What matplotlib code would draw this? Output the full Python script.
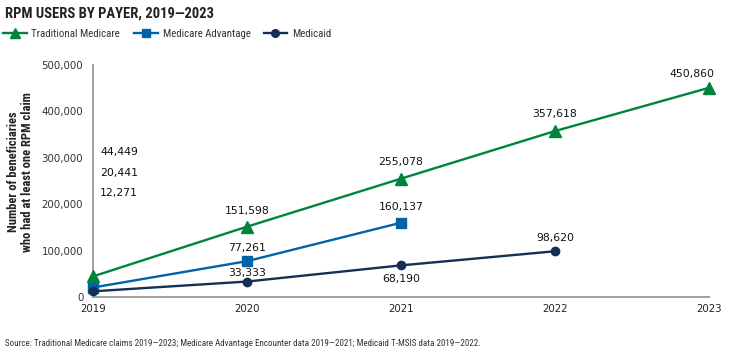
import matplotlib
matplotlib.use("Agg")
import matplotlib.pyplot as plt
from matplotlib.lines import Line2D

years_tm = [2019, 2020, 2021, 2022, 2023]
tm = [44449, 151598, 255078, 357618, 450860]
years_ma = [2019, 2020, 2021]
ma = [20441, 77261, 160137]
years_md = [2019, 2020, 2021, 2022]
md = [12271, 33333, 68190, 98620]
yticks = [0, 100000, 200000, 300000, 400000, 500000]
ytick_labels = ["0", "100,000", "200,000", "300,000", "400,000", "500,000"]
series_names = ["Traditional Medicare", "Medicare Advantage", "Medicaid"]

c_tm = "#00843D"
c_ma = "#0062A8"
c_md = "#152F55"
cond = ["Roboto Condensed", "DejaVu Sans"]
plain = ["DejaVu Sans"]

fig = plt.figure(figsize=(7.29, 3.53), dpi=100)
ax = fig.add_axes([0.1276, 0.1586, 0.845, 0.6573])

ax.plot(years_tm, tm, color=c_tm, lw=1.7, marker="^", ms=8, clip_on=False, zorder=3)
ax.plot(years_ma, ma, color=c_ma, lw=1.7, marker="s", ms=6.5, clip_on=False, zorder=3)
ax.plot(years_md, md, color=c_md, lw=1.7, marker="o", ms=6, clip_on=False, zorder=3)

ax.set_xlim(2019, 2023)
ax.set_ylim(0, 500000)
ax.set_xticks(years_tm)
ax.set_xticklabels([str(y) for y in years_tm], fontsize=7.4, color="#222222", family=plain)
ax.set_yticks(yticks)
ax.set_yticklabels(ytick_labels, fontsize=7.4, color="#333333", family=plain)
ax.tick_params(axis="y", length=0, pad=7)
ax.tick_params(axis="x", length=0, pad=5)
for s in ["top", "right"]:
    ax.spines[s].set_visible(False)
for s in ["left", "bottom"]:
    ax.spines[s].set_color("#A0A0A0")
    ax.spines[s].set_linewidth(1.4)

lbl = dict(fontsize=7.8, color="#111111", family=plain, ha="center", va="center")

# 2019 values stacked beside the axis
yl = [0.625, 0.534, 0.448]
for v, yf in zip([tm[0], ma[0], md[0]], yl):
    ax.annotate(f"{v:,}", xy=(years_tm[0], yf), xycoords=("data", "axes fraction"),
                xytext=(5, 0), textcoords="offset points",
                **{**lbl, "ha": "left"})

tm_off = [(0, 11), (0, 12), (0, 12.5), (4, 10)]
for i, ((x, v), off) in enumerate(zip(zip(years_tm[1:], tm[1:]), tm_off)):
    ha = "right" if i == len(tm_off) - 1 else "center"
    ax.annotate(f"{v:,}", (x, v), xytext=off, textcoords="offset points",
                annotation_clip=False, **{**lbl, "ha": ha})
ma_off = [9.5, 11]
for (x, v), off in zip(zip(years_ma[1:], ma[1:]), ma_off):
    ax.annotate(f"{v:,}", (x, v), xytext=(0, off), textcoords="offset points", **lbl)
md_off = [6.5, -10, 9.5]
for (x, v), off in zip(zip(years_md[1:], md[1:]), md_off):
    ax.annotate(f"{v:,}", (x, v), xytext=(0, off), textcoords="offset points", **lbl)

fig.text(0.028, 0.513, "Number of beneficiaries\nwho had at least one RPM claim",
         rotation=90, ha="center", va="center", fontsize=9, fontweight="bold",
         family=cond, color="#222222", linespacing=1.1)

fig.text(0.007, 0.963, "RPM USERS BY PAYER, 2019\u20142023", fontsize=10.5, fontweight="bold",
         family=cond, color="#222222", ha="left", va="center")

handles = [
    Line2D([], [], color=c_tm, lw=1.7, marker="^", ms=7),
    Line2D([], [], color=c_ma, lw=1.7, marker="s", ms=6),
    Line2D([], [], color=c_md, lw=1.7, marker="o", ms=5.5),
]
leg_x = [0.0, 0.18, 0.357]
for h, name, lx in zip(handles, series_names, leg_x):
    lg = fig.legend([h], [name], loc="center left", bbox_to_anchor=(lx, 0.904),
                    frameon=False, handlelength=2.2, handletextpad=0.4,
                    borderaxespad=0, borderpad=0.3,
                    prop={"family": cond, "size": 7.8})
    for t in lg.get_texts():
        t.set_color("#333333")

fig.text(0.007, 0.028,
         "Source: Traditional Medicare claims 2019\u20142023; Medicare Advantage Encounter data 2019\u20142021; Medicaid T-MSIS data 2019\u20142022.",
         fontsize=6.5, family=cond, color="#333333", ha="left", va="center")

fig.savefig("out.png", dpi=100)
